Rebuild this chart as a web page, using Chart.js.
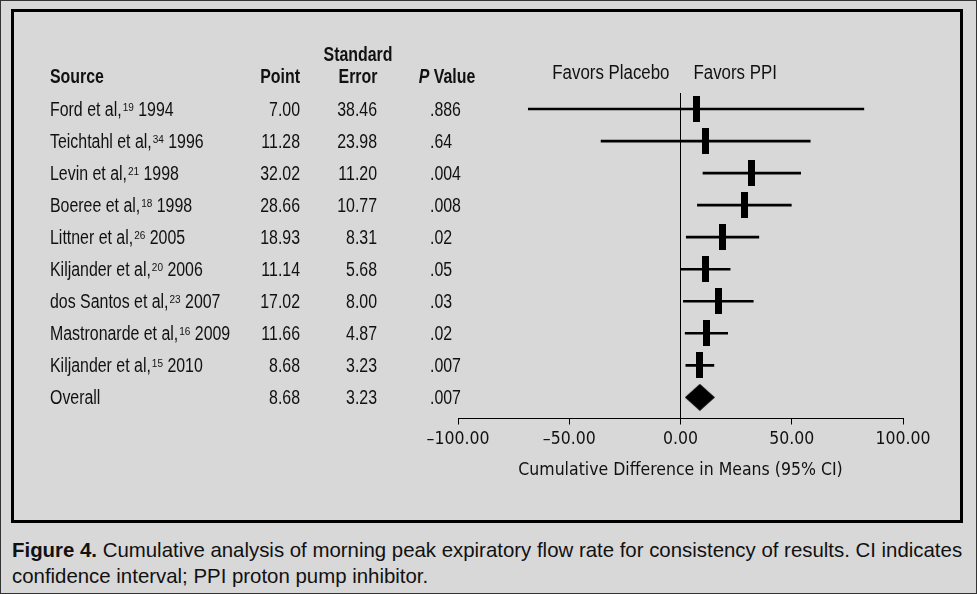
<!DOCTYPE html>
<html>
<head>
<meta charset="utf-8">
<script src="https://cdn.jsdelivr.net/npm/chart.js@4.4.0/dist/chart.umd.min.js"></script>
<style>
  html, body { margin: 0; padding: 0; }
  body {
    width: 977px; height: 594px; background: #d8d8d8; position: relative; overflow: hidden;
    font-family: 'Liberation Sans', Arial, sans-serif; color: #111;
  }
  #edge { position: absolute; left: 0; top: 0; width: 975px; height: 592px; border: 1px solid #333; }
  #frame { position: absolute; left: 11px; top: 9px; width: 946px; height: 508px; border: 3px solid #000; }
  #plot { position: absolute; left: 0; top: 0; }
  #caption {
    position: absolute; left: 12px; top: 537px; font-size: 21px; line-height: 26px;
    white-space: nowrap; transform-origin: 0 0;
  }
</style>
</head>
<body>
<div id="edge"></div>
<canvas id="plot" width="977" height="530"></canvas>
<div id="frame"></div>
<div id="caption"><span id="line1"><b>Figure 4.</b> Cumulative analysis of morning peak expiratory flow rate for consistency of results. CI indicates</span><br>confidence interval; PPI proton pump inhibitor.</div>
<script>
// study rows, top to bottom
const studies = ['Ford et al,', 'Teichtahl et al,', 'Levin et al,', 'Boeree et al,', 'Littner et al,',
    'Kiljander et al,', 'dos Santos et al,', 'Mastronarde et al,', 'Kiljander et al,', 'Overall'];
const refs = ['19', '34', '21', '18', '26', '20', '23', '16', '15', ''];
const years = ['1994', '1996', '1998', '1998', '2005', '2006', '2007', '2009', '2010', ''];
const points = [7.00, 11.28, 32.02, 28.66, 18.93, 11.14, 17.02, 11.66, 8.68, 8.68];
const stdErrors = ['38.46', '23.98', '11.20', '10.77', '8.31', '5.68', '8.00', '4.87', '3.23', '3.23'];
const pValues = ['.886', '.64', '.004', '.008', '.02', '.05', '.03', '.02', '.007', '.007'];
// 95% CI ends
const ciLower = [-68.4, -35.7, 10.1, 7.6, 2.6, 0.0, 1.3, 2.1, 2.4, 2.4];
const ciUpper = [82.4, 58.3, 54.0, 49.8, 35.2, 22.3, 32.7, 21.2, 15.0, 15.0];
const xTicks = [-100, -50, 0, 50, 100];

const FONT = "'Liberation Sans', Arial, sans-serif";
const AXISFONT = "'DejaVu Sans Condensed', 'Liberation Sans', sans-serif";
const INK = '#111';
const SX = 0.816;   // squeeze Liberation Sans to look like a condensed face

// marker images
function makeBox() {
    let c = document.createElement('canvas');
    c.width = 7; c.height = 26;
    let g = c.getContext('2d');
    g.fillStyle = '#000';
    g.fillRect(0, 0, 7, 26);
    return c;
}
function makeDiamond() {
    let c = document.createElement('canvas');
    c.width = 30; c.height = 27;
    let g = c.getContext('2d');
    g.fillStyle = '#000';
    g.beginPath();
    g.moveTo(15, 0); g.lineTo(30, 13.5); g.lineTo(15, 27); g.lineTo(0, 13.5);
    g.closePath();
    g.fill();
    return c;
}
const boxImg = makeBox();
const diamondImg = makeDiamond();

let ciData = [];
for (let i = 0; i < studies.length; i++) {
    if (studies[i] == 'Overall') continue;
    ciData.push({ y: i, x: [ciLower[i], ciUpper[i]] });
}
let pointData = points.map((p, i) => ({ x: p, y: i }));
let pointStyles = studies.map(s => s == 'Overall' ? diamondImg : boxImg);

// draws squeezed text, returns its drawn width
function squeezed(ctx, str, x, y, align, font, sx) {
    sx = sx || SX;
    ctx.save();
    ctx.font = font;
    ctx.textAlign = align;
    ctx.translate(x, y);
    ctx.scale(sx, 1);
    ctx.fillText(str, 0, 0);
    let w = ctx.measureText(str).width * sx;
    ctx.restore();
    return w;
}
function textWidth(ctx, str, font, sx) {
    ctx.save();
    ctx.font = font;
    let w = ctx.measureText(str).width * (sx || SX);
    ctx.restore();
    return w;
}

const tablePlugin = {
    id: 'studyTable',
    afterDraw(chart) {
        const ctx = chart.ctx;
        const y = chart.scales.y;
        const x = chart.scales.x;
        const reg = '19.5px ' + FONT;
        const bold = 'bold 19.5px ' + FONT;
        const boldIt = 'italic bold 19.5px ' + FONT;
        ctx.save();
        ctx.fillStyle = INK;
        ctx.textBaseline = 'alphabetic';

        // headers
        squeezed(ctx, 'Source', 50, 83, 'left', bold);
        squeezed(ctx, 'Point', 300, 83, 'right', bold);
        squeezed(ctx, 'Standard', 358, 61, 'center', bold);
        squeezed(ctx, 'Error', 358, 83, 'center', bold);
        let wP = textWidth(ctx, 'P', boldIt);
        let wV = textWidth(ctx, ' Value', bold);
        let px = 447 - (wP + wV) / 2;
        squeezed(ctx, 'P', px, 83, 'left', boldIt);
        squeezed(ctx, ' Value', px + wP, 83, 'left', bold);

        // favors labels either side of zero
        let zx = x.getPixelForValue(0);
        squeezed(ctx, 'Favors Placebo', zx - 11, 79, 'right', reg, 0.865);
        squeezed(ctx, 'Favors PPI', zx + 13, 79, 'left', reg, 0.865);

        // rows
        studies.forEach((name, i) => {
            let base = y.getPixelForValue(i) + 7;
            let nx = 50 + squeezed(ctx, name, 50, base, 'left', reg);
            if (refs[i]) {
                nx += 1 + squeezed(ctx, refs[i], nx + 1, base - 5, 'left', '10px ' + FONT, 1);
                squeezed(ctx, ' ' + years[i], nx, base, 'left', reg);
            }
            squeezed(ctx, points[i].toFixed(2), 300, base, 'right', reg);
            squeezed(ctx, stdErrors[i], 377, base, 'right', reg);
            squeezed(ctx, pValues[i], 430, base, 'left', reg);
        });
        ctx.restore();
    }
};

let forestChart = new Chart(document.getElementById('plot'), {
    type: 'bar',
    data: {
        datasets: [{
            type: 'bar',
            label: 'CI',
            data: ciData,
            backgroundColor: '#000',
            borderWidth: 0,
            barThickness: 2,
            indexAxis: 'y'
        }, {
            type: 'scatter',
            label: 'Point',
            data: pointData,
            pointStyle: pointStyles,
            pointRadius: 5,
            pointHoverRadius: 5
        }]
    },
    options: {
        responsive: false,
        animation: false,
        indexAxis: 'y',
        layout: { padding: { left: 458, right: 74, top: 93, bottom: 49 } },
        plugins: { legend: { display: false }, tooltip: { enabled: false } },
        events: [],
        scales: {
            x: {
                type: 'linear',
                position: 'bottom',
                min: -100,
                max: 100,
                afterBuildTicks: (scale) => { scale.ticks = xTicks.map(v => ({ value: v })); },
                ticks: {
                    color: INK,
                    font: { family: AXISFONT, size: 17.5 },
                    padding: 4,
                    maxRotation: 0,
                    callback: (v) => (v < 0 ? '\u2013' : '') + Math.abs(v).toFixed(2)
                },
                grid: {
                    drawOnChartArea: true,
                    color: (c) => (c.tick && c.tick.value === 0) ? '#000' : 'rgba(0,0,0,0)',
                    tickColor: '#000',
                    tickLength: 6,
                    lineWidth: 1
                },
                border: { display: true, color: '#000', width: 1 },
                title: {
                    display: true,
                    text: 'Cumulative Difference in Means (95% CI)',
                    color: INK,
                    font: { family: AXISFONT, size: 17.5 },
                    padding: { top: 6.5, bottom: 0 }
                }
            },
            y: {
                type: 'linear',
                reverse: true,
                offset: false,
                min: -0.5,
                max: 9.66,
                display: false
            }
        }
    },
    plugins: [tablePlugin]
});

// fit the first caption line to the frame width
let line1 = document.getElementById('line1');
let cap = document.getElementById('caption');
cap.style.transform = 'scaleX(' + (950 / line1.offsetWidth) + ')';
</script>
</body>
</html>
